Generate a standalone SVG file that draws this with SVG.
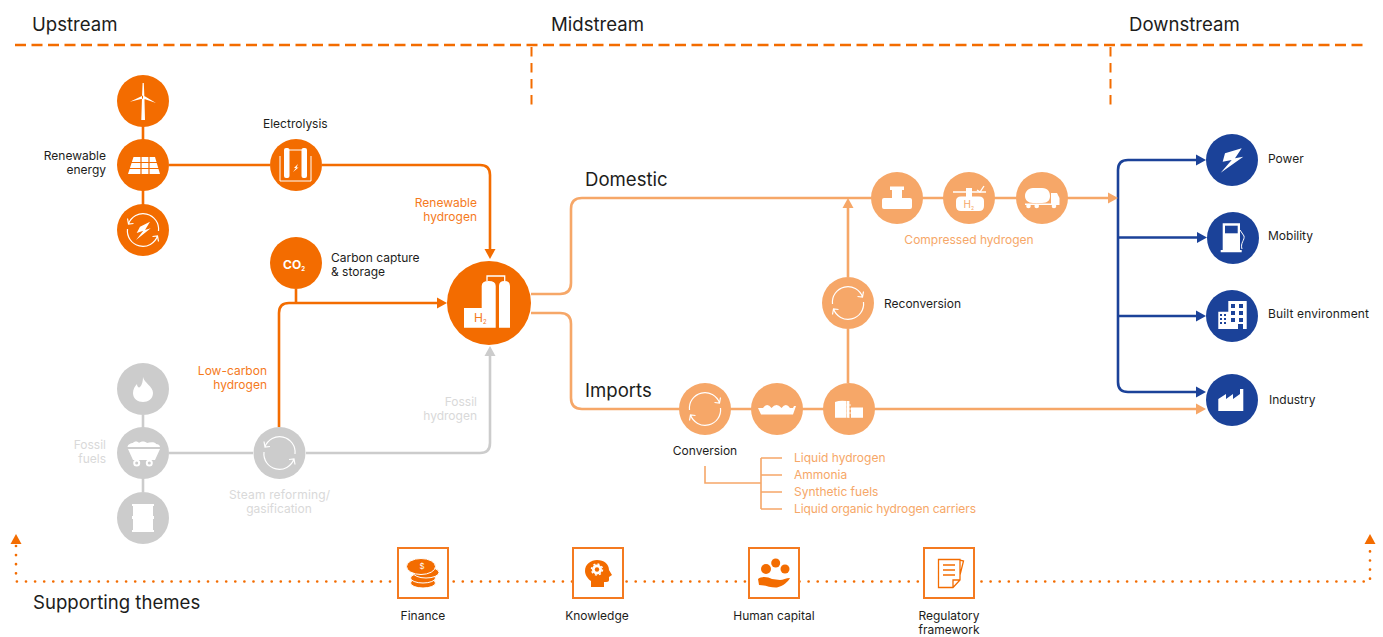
<svg xmlns="http://www.w3.org/2000/svg" width="1383" height="637" viewBox="0 0 1383 637">
<style>
text{font-family:"Inter","Liberation Sans",sans-serif;font-size:12px;fill:#1d1d1b}
.h{font-size:18.6px}
.o{fill:#F57A1C}.l{fill:#F6A768}.g{fill:#D9D9D9}
.e{text-anchor:end}.m{text-anchor:middle}
.co{fill:#F36C00}.cl{fill:#F6A768}.cg{fill:#CCCCCC}.cb{fill:#1B4299}
.w{fill:#fff}
.ws{fill:none;stroke:#fff;stroke-width:1.2}
.ln{fill:none;stroke-width:2.6}
.so{stroke:#F36C00}.sl{stroke:#F6A768}.sg{stroke:#CCCCCC}.sb{stroke:#1B4299}
.sq{fill:#fff;stroke:#F47A20;stroke-width:2}
.f{fill:#F36C00}
</style>
<defs>
<g id="cyc"><path class="ws" d="M-15.5,1A15.5,15.5 0 0 1 14.5,-6M9.5,-6.5L14.5,-6L15.5,-11.5"/><path class="ws" d="M15.5,-1A15.5,15.5 0 0 1 -14.5,6M-9.5,6.5L-14.5,6L-15.5,11.5"/></g>
<path id="ah" d="M0,0L-10,-5.500V5.500Z"/>
</defs>

<g id="connectors">
<path d="M15,45H1364" fill="none" stroke="#F36C00" stroke-width="2.400" stroke-dasharray="11 5.500"/>
<path d="M531.500,47V107M1110.500,47V107" fill="none" stroke="#F36C00" stroke-width="2" stroke-dasharray="9.500 6.500"/>
<path class="ln so" d="M143,120V211M169,165H270M322,165H480Q490,165 490,175V250M296,289V303M279,427V313Q279,303 289,303H437"/>
<path class="ln sg" d="M143,415V492M169,453H253M306,453H480Q490,453 490,443V356"/>
<path class="ln sl" d="M531,294H560Q571,294 571,283V209Q571,198 582,198H1108M848,277V208M848,329V383M531,313H560Q571,313 571,324V398Q571,409 582,409H1196"/>
<path d="M705,466V483H761M761,458V509M761,458H782M761,475H782M761,492H782M761,509H782" fill="none" stroke="#F6A768" stroke-width="1.600"/>
<path class="ln sb" d="M1196,160H1128Q1118,160 1118,170V382Q1118,392 1128,392H1196M1118,237.500H1197M1118,316H1197"/>
<path d="M16,546V581.500H1370V546" fill="none" stroke="#F36C00" stroke-width="2.700" stroke-linecap="round" stroke-dasharray="0 9.100"/>
<g class="co"><use href="#ah" transform="translate(490,259) rotate(90)"/><use href="#ah" transform="translate(447,303)"/><use href="#ah" transform="translate(16,534) rotate(-90)"/><use href="#ah" transform="translate(1370,534) rotate(-90)"/></g>
<use href="#ah" class="cg" transform="translate(490,346) rotate(-90)"/>
<g class="cl"><use href="#ah" transform="translate(1118,198)"/><use href="#ah" transform="translate(848,198) rotate(-90)"/><use href="#ah" transform="translate(1206,409)"/></g>
<g class="cb"><use href="#ah" transform="translate(1206,160)"/><use href="#ah" transform="translate(1207,237.500)"/><use href="#ah" transform="translate(1206,316)"/><use href="#ah" transform="translate(1206,392)"/></g>
</g>

<g id="headers"><text class="h" x="32" y="31">Upstream</text><text class="h" x="551" y="31">Midstream</text><text class="h" x="1129" y="31">Downstream</text><text class="h" x="585" y="186">Domestic</text><text class="h" x="585" y="397">Imports</text><text class="h" x="33" y="609">Supporting themes</text></g>

<g id="wind"><circle class="co" cx="143" cy="101" r="26"/><path class="w" d="M142,97L142.600,83L143.800,83L144.400,97L145,120H141.300ZM143,95.500L130,101.800L143,98.500ZM143.500,95.500L156,103L143,98.500Z"/></g>
<g id="solar"><circle class="co" cx="143" cy="165" r="26"/><path class="w" d="M133.500,157H155L160,174H128Z"/><path d="M130,162.500H158M128.500,168.500H160M141,156V175M149,156V175" stroke="#F36C00" stroke-width="1.200" fill="none"/></g>
<g id="grid"><circle class="co" cx="143" cy="230" r="26"/><use href="#cyc" transform="translate(143,230) scale(-1,1)"/><path class="w" d="M150,221.700L140,226.700L136.700,233L143.300,230.700L136,240L150.700,228.300L145,230Z"/></g>
<g id="electrolysis"><circle class="co" cx="296" cy="165" r="26"/><path d="M280,156V181H311V156M286.500,150H304.500" fill="none" stroke="#fff" stroke-width="1"/><rect class="w" x="284" y="148" width="5.500" height="30" rx="2"/><rect class="w" x="301.500" y="148" width="5.500" height="30" rx="2"/><path class="w" d="M298,164L294,168H296L293,172L298.500,167.500H296.500Z"/></g>
<g id="co2"><circle class="co" cx="296" cy="263" r="26"/><text x="283" y="268.500" style="font-size:12px;font-weight:700;fill:#fff">CO<tspan dy="2" style="font-size:6px">2</tspan></text></g>
<g id="h2"><circle class="co" cx="489" cy="303" r="42"/><path class="w" d="M481.700,286Q481.700,281 488.700,281Q495.700,281 495.700,286V308H481.700ZM464,308H495.700V327.700H464ZM499,286Q499,281 504.500,281Q510,281 510,286V327.700H499Z"/><path d="M487,281V276H504.700V281" fill="none" stroke="#fff" stroke-width="1.300"/><text x="474" y="322" style="font-size:12px;fill:#F57A1C">H<tspan dy="2" style="font-size:6px">2</tspan></text></g>

<g id="flame"><circle class="cg" cx="143" cy="389" r="26"/><path class="w" d="M143,377C144,383 153,386 153,393C153,399 148,402 143,402C138,402 133,399 133,393C133,389 135,386 137,384C137,387 139,388 140,387C142,385 143,381 143,377Z"/></g>
<g id="coal"><circle class="cg" cx="143" cy="453" r="26"/><path class="w" d="M127.500,447C128,444 131,443 133,443C134,441 138,441 139,443C141,441 145,441 147,443C150,442 156,442 156,444C158,444 160,445 160,447ZM128,449H160L155,460H133Z"/><circle class="w" cx="136.700" cy="463" r="3.500"/><circle class="w" cx="149.300" cy="463" r="3.500"/><circle class="cg" cx="136.700" cy="463" r="1.500"/><circle class="cg" cx="149.300" cy="463" r="1.500"/></g>
<g id="barrel"><circle class="cg" cx="143" cy="518" r="26"/><path class="w" d="M132,504H154V506H153V516H154V519H153V530H154V532H132V530H133V519H132V516H133V506H132Z"/></g>
<g id="steam"><circle class="cg" cx="279.500" cy="453" r="26"/><use href="#cyc" transform="translate(279.500,453) scale(-1,1)"/></g>

<g id="pipe"><circle class="cl" cx="897" cy="198" r="26"/><path class="w" d="M890,186.500H904V190H902V198H910Q912,198 912,200V207Q912,209 910,209H884Q882,209 882,207V200Q882,198 884,198H892V190H890Z"/></g>
<g id="store"><circle class="cl" cx="969" cy="198" r="26"/><path d="M953,192H986" stroke="#fff" stroke-width="1.300"/><path class="w" d="M966,188H972V197H966ZM961,196.500H979Q984,196.500 984,201V206Q984,211 979,211H961Q956,211 956,206V201Q956,196.500 961,196.500Z"/><path d="M977,190L980,192L984,186" fill="none" stroke="#fff" stroke-width="1.300"/><text x="963.500" y="208" style="font-size:10px;fill:#F6A768">H<tspan dy="2" style="font-size:5px">2</tspan></text></g>
<g id="truck"><circle class="cl" cx="1042" cy="198" r="26"/><path class="w" d="M1033,188H1042C1048,188 1050,192 1050,196C1050,200 1048,203 1042,203H1033C1028,203 1025,200 1025,196C1025,192 1028,188 1033,188ZM1051,193H1057L1059.500,198V204H1051ZM1025,203.500H1059.500V205H1025Z"/><circle class="w" cx="1028.500" cy="206" r="2.300"/><circle class="w" cx="1036.700" cy="206" r="2.300"/><circle class="w" cx="1054" cy="206" r="2.300"/></g>
<g id="reconversion"><circle class="cl" cx="848" cy="303" r="26"/><use href="#cyc" transform="translate(848,303)"/></g>
<g id="conversion"><circle class="cl" cx="705" cy="409" r="26"/><use href="#cyc" transform="translate(705,409)"/></g>
<g id="ship"><circle class="cl" cx="777" cy="409" r="26"/><path class="w" d="M758,408H763Q767,402 771.500,408Q776.500,402 781.500,408Q786,402 790,408H793L794,406H796L793,414.500H761Z"/></g>
<g id="terminal"><circle class="cl" cx="849" cy="409" r="26"/><path class="w" d="M835,402Q840,400 846.500,401V417.700H835ZM851,407.500H863V417.700H851ZM847,401H849V417.700H847Z"/><path d="M849,401V418M846.500,405H851M846.500,409H851M846.500,413H851" stroke="#fff" stroke-width=".8"/></g>

<g id="power"><circle class="cb" cx="1232" cy="160" r="26"/><path class="w" d="M1241.700,148.300L1225,153.300L1222.700,161.700L1231.700,160L1220.700,172.700L1243.300,156.700L1235,158.300Z"/></g>
<g id="mobility"><circle class="cb" cx="1233" cy="238" r="26"/><path class="w" d="M1222.700,223.300H1240V250H1241.700V252.300H1220.700V250H1222.700Z"/><rect class="cb" x="1225" y="225.700" width="12.700" height="7.600"/><path d="M1240,230L1244,236C1245,240 1240,243 1242,249" fill="none" stroke="#fff" stroke-width="1"/></g>
<g id="built"><circle class="cb" cx="1232" cy="316" r="26"/><path class="w" d="M1228.300,301H1246.700V329H1228.300ZM1218.300,311.700H1228.300V329H1218.300Z"/><path class="cb" d="M1231,304h4v4h-4zM1239,304h4v4h-4zM1231,311h4v4h-4zM1239,311h4v4h-4zM1231,318h4v4h-4zM1239,318h4v4h-4zM1238,324h5v5h-5zM1220,314h2v2h-2zM1224,314h2v2h-2zM1220,318h2v2h-2zM1224,318h2v2h-2zM1220,322h2v2h-2zM1224,322h2v2h-2z"/></g>
<g id="industry"><circle class="cb" cx="1232" cy="400" r="26"/><path class="w" d="M1218.300,411V399L1226,394V399L1233,394V399L1240,394V389H1243.300V411Z"/></g>

<g id="renew-label"><text class="e" x="106" y="160">Renewable</text><text class="e" x="106" y="174">energy</text></g>
<text x="263" y="128">Electrolysis</text>
<text class="o e" x="477" y="207">Renewable</text><text class="o e" x="477" y="221">hydrogen</text>
<text x="331" y="262">Carbon capture</text><text x="331" y="276">&amp; storage</text>
<text class="o e" x="267" y="375">Low-carbon</text><text class="o e" x="267" y="389">hydrogen</text>
<text class="g e" x="477" y="406">Fossil</text><text class="g e" x="477" y="420">hydrogen</text>
<text class="g e" x="106" y="449">Fossil</text><text class="g e" x="106" y="463">fuels</text>
<text class="g m" x="279.500" y="499" textLength="101">Steam reforming/</text><text class="g m" x="279" y="513">gasification</text>
<text class="l m" x="969" y="244">Compressed hydrogen</text>
<text x="884" y="308">Reconversion</text>
<text class="m" x="705" y="455">Conversion</text>
<text class="l" x="794" y="462">Liquid hydrogen</text><text class="l" x="794" y="479">Ammonia</text><text class="l" x="794" y="496">Synthetic fuels</text><text class="l" x="794" y="513" textLength="182">Liquid organic hydrogen carriers</text>
<text x="1268" y="163">Power</text><text x="1268" y="240">Mobility</text><text x="1268" y="318" textLength="101">Built environment</text><text x="1269" y="404">Industry</text>

<g id="finance"><rect class="sq" x="398" y="548" width="50" height="50"/><g fill="#F36C00" stroke="#fff" stroke-width="1"><ellipse cx="423" cy="583" rx="12.500" ry="5"/><ellipse cx="423" cy="578" rx="12.500" ry="5"/><ellipse cx="426" cy="572.500" rx="13" ry="5.500"/><ellipse cx="421" cy="566.500" rx="14.500" ry="8"/></g><text class="m" x="422" y="569" style="font-size:8px;fill:#fff">$</text><text class="m" x="423" y="620">Finance</text></g>
<g id="knowledge"><rect class="sq" x="573" y="548" width="50" height="50"/><path class="f" d="M585,571C585,564 591,560 597,560C604,560 609,564 609,570L612,575L609,577V580C609,582 607,582 604,582V587H591V581C588,579 585,575 585,571Z"/><circle class="w" cx="597" cy="569.500" r="5"/><circle cx="597" cy="569.500" r="5.500" fill="none" stroke="#fff" stroke-width="1.500" stroke-dasharray="2 2.300"/><circle class="f" cx="597" cy="569.500" r="2.200"/><text class="m" x="597" y="620">Knowledge</text></g>
<g id="human"><rect class="sq" x="749" y="548" width="50" height="50"/><circle class="f" cx="766" cy="569" r="5"/><circle class="f" cx="775.700" cy="563" r="4.500"/><circle class="f" cx="785" cy="569" r="4.500"/><path class="f" d="M758,579C762,576 768,577 772,579L780,580C783,580 786,578 790,578C788,582 783,586 777,587.500C771,588 766,585 759,585Z"/><text class="m" x="774" y="620">Human capital</text></g>
<g id="regulatory"><rect class="sq" x="924" y="548" width="50" height="50"/><path d="M938.500,559.500H960V580L953,587.500H938.500ZM953,587.500V580H960M960,560L963.500,561L960,575M943,565H955M943,570H955M943,575H955" fill="none" stroke="#F36C00" stroke-width="1.300"/><text class="m" x="949" y="620">Regulatory</text><text class="m" x="949" y="634">framework</text></g>
</svg>
